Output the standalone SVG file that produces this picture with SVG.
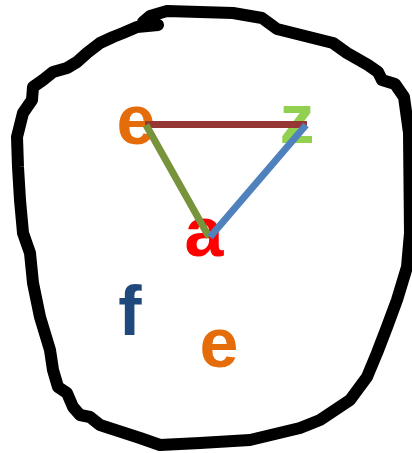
<svg xmlns="http://www.w3.org/2000/svg" width="412" height="453" viewBox="0 0 412 453">
<style>
.lbl{font-family:"Liberation Sans",Arial,sans-serif;font-weight:bold;font-size:70px;text-anchor:middle}
.edge{fill:none;stroke-width:7;stroke-linecap:butt}
</style>
<rect width="412" height="453" fill="#fff"/>
<g id="blob">
<path d="M158,25 L137,27 L123,33 L113,37 L100,43 L87,53 L77,62 L67,68 L53,72 L43,80 L33,87 L32,100 L23,113 L17,137 L18,167 L20,200 L23,233 L30,253 L33,283 L40,317 L50,350 L53,370 L58,387 L67,393 L73,407 L80,415 L90,417 L100,425 L140,438 L160,445 L200,443 L250,440 L300,428 L320,420 L350,400 L367,377 L377,353 L387,327 L397,300 L407,267 L410,233 L409,133 L404,97 L395,84 L382,80 L378,72 L368,65 L347,53 L333,43 L277,29 L262,18 L233,13 L167,11 L150,16 L143,22" fill="none" stroke="#000" stroke-width="12" stroke-linejoin="round" stroke-linecap="round"/>
</g>
<g id="node-e1"><text class="lbl" x="136" y="144" fill="#E46C0A">e</text></g>
<g id="node-z"><text class="lbl" x="297" y="143" fill="#92D050">z</text></g>
<g id="node-a"><text class="lbl" x="204" y="256" fill="#FF0000">a</text></g>
<g id="node-f"><text class="lbl" x="130" y="335" fill="#1F497D">f</text></g>
<g id="node-e2"><text class="lbl" x="219" y="367" fill="#E46C0A">e</text></g>
<g id="connectors">
<line class="edge" x1="145" y1="124.5" x2="307" y2="124.5" stroke="#953735"/>
<line class="edge" x1="146" y1="125" x2="209" y2="237" stroke="#77933C"/>
<line class="edge" x1="306" y1="125" x2="210" y2="237" stroke="#4F81BD"/>
</g>
</svg>
